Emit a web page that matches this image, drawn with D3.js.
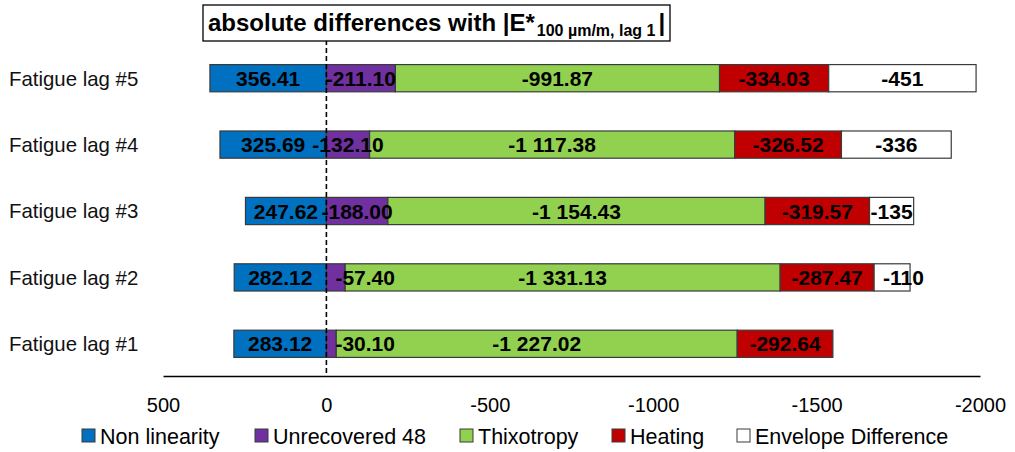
<!DOCTYPE html>
<html><head><meta charset="utf-8">
<script src="https://cdn.jsdelivr.net/npm/d3@7"></script>
<style>body{margin:0;background:#fff;} text{font-family:"Liberation Sans",Arial,sans-serif;}</style>
</head><body>
<svg id="c" width="1015" height="452"></svg>
<script>
const categories = ["Fatigue lag #5","Fatigue lag #4","Fatigue lag #3","Fatigue lag #2","Fatigue lag #1"];
const seriesNames = ["Non linearity","Unrecovered 48","Thixotropy","Heating","Envelope Difference"];
const nonLinearity = [356.41, 325.69, 247.62, 282.12, 283.12];
const unrecovered48 = [-211.10, -132.10, -188.00, -57.40, -30.10];
const thixotropy = [-991.87, -1117.38, -1154.43, -1331.13, -1227.02];
const heating = [-334.03, -326.52, -319.57, -287.47, -292.64];
const envelopeDiff = [-451, -336, -135, -110, null];
const tickValues = [500, 0, -500, -1000, -1500, -2000];
const colors = ["#0070C0","#7030A0","#92D050","#C00000","#FFFFFF"];

const seriesArrays = [nonLinearity, unrecovered48, thixotropy, heating, envelopeDiff];
const table = categories.map((c,i)=>{
  const o = {cat:c};
  seriesNames.forEach((s,j)=>{ o[s] = seriesArrays[j][i] == null ? 0 : seriesArrays[j][i]; });
  return o;
});

const loc = d3.formatLocale({decimal:".", thousands:" ", grouping:[3], currency:["",""], minus:"-"});
const fmt2 = loc.format(",.2f"), fmt0 = loc.format(",.0f"), fmtT = loc.format("d");

const svg = d3.select("#c");
const x = d3.scaleLinear().domain([500,-2000]).range([163,980]);
const y = d3.scaleBand().domain(categories).range([45,377]).paddingInner(0.59).paddingOuter(0.295);

const stack = d3.stack().keys(seriesNames).offset(d3.stackOffsetDiverging);
const stacked = stack(table);

// bars
stacked.forEach((s,si)=>{
  const g = svg.append("g");
  s.forEach((d,i)=>{
    const v = seriesArrays[si][i];
    if (v == null || v === 0) return;
    const x0 = Math.min(x(d[0]),x(d[1])), x1 = Math.max(x(d[0]),x(d[1]));
    g.append("rect").attr("x",x0).attr("y",y(d.data.cat)).attr("width",x1-x0).attr("height",y.bandwidth())
      .attr("fill",colors[si]).attr("stroke","#3a3a3a").attr("stroke-width",1.2);
  });
});
// labels (narrow segments: label starts just inside the segment, like the reference)
stacked.forEach((s,si)=>{
  s.forEach((d,i)=>{
    const v = seriesArrays[si][i];
    if (v == null || v === 0) return;
    const xa = Math.min(x(d[0]),x(d[1])), xb = Math.max(x(d[0]),x(d[1]));
    const narrow = (xb - xa) < 40;
    svg.append("text").attr("x", narrow ? xa + 9 : (xa+xb)/2).attr("y",y(d.data.cat)+y.bandwidth()/2).attr("dy","0.36em")
      .attr("text-anchor", narrow ? "start" : "middle").attr("font-weight","bold").attr("font-size",21).attr("fill","#000")
      .text(si===4 ? fmt0(v) : fmt2(v));
  });
});

// category labels
categories.forEach(c=>{
  svg.append("text").attr("x",9).attr("y",y(c)+y.bandwidth()/2).attr("dy","0.36em")
    .attr("font-size",20.4).attr("fill","#111").text(c);
});

// axis
const axis = d3.axisBottom(x).tickValues(tickValues).tickFormat(fmtT).tickSize(0).tickPadding(22);
const ag = svg.append("g").attr("transform","translate(0,376)").call(axis);
ag.select(".domain").attr("stroke","#000").attr("stroke-width",1.3);
ag.selectAll("text").attr("font-size",20).attr("fill","#000").style("font-family","Liberation Sans, Arial, sans-serif");

// zero dashed line
svg.append("line").attr("x1",x(0)).attr("x2",x(0)).attr("y1",40).attr("y2",376)
  .attr("stroke","#000").attr("stroke-width",1.6).attr("stroke-dasharray","5,3");

// title box
svg.append("rect").attr("x",203).attr("y",5).attr("width",467).attr("height",36).attr("fill","#fff").attr("stroke","#000").attr("stroke-width",1.3);
const t = svg.append("text").attr("x",208).attr("y",31).attr("font-weight","bold").attr("font-size",24).attr("fill","#000");
t.append("tspan").text("absolute differences with |E*");
t.append("tspan").attr("font-size",16).attr("dy",5).attr("dx",2).text("100 µm/m, lag 1");
t.append("tspan").attr("dy",-5).attr("dx",3).text("|");

// legend
const legX = [82, 255, 460, 612, 737];
seriesNames.forEach((s,i)=>{
  svg.append("rect").attr("x",legX[i]).attr("y",429).attr("width",13).attr("height",13)
    .attr("fill",colors[i]).attr("stroke","#3a3a3a").attr("stroke-width",1);
  svg.append("text").attr("x",legX[i]+18).attr("y",436).attr("dy","0.36em").attr("font-size",21.5).attr("fill","#000").text(s);
});
</script>
</body></html>
